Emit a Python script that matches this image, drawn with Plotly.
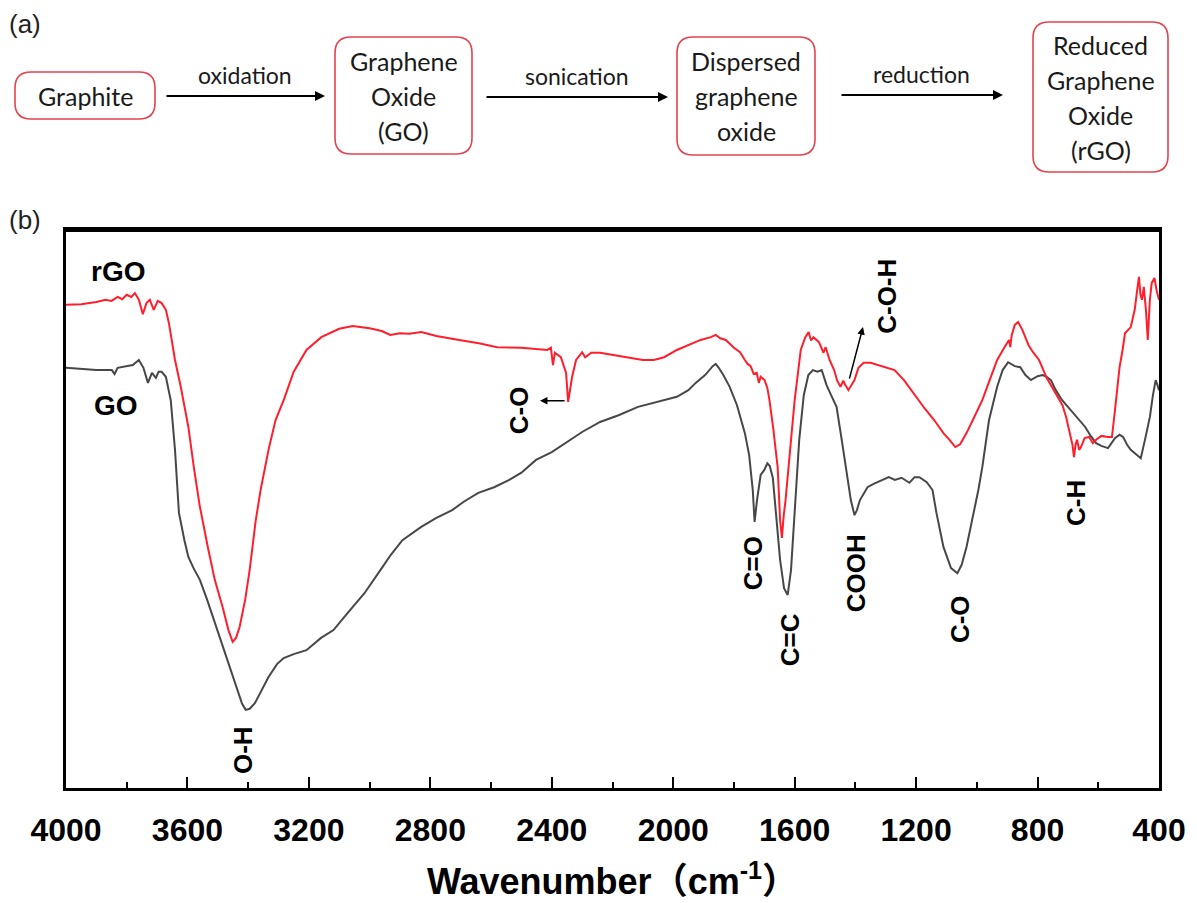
import plotly.graph_objects as go

# ---------------- data ----------------
rgo_wn = [4000, 3950, 3900, 3870, 3850, 3830, 3815, 3800, 3785, 3773, 3760, 3747, 3735, 3724, 3711, 3698,
          3685, 3671, 3661, 3641, 3622, 3597, 3579, 3560, 3533, 3510, 3484, 3465, 3451, 3440, 3428, 3410,
          3395, 3375, 3359, 3333, 3310, 3283, 3250, 3208, 3159, 3100, 3056, 3000, 2960, 2932, 2900, 2869,
          2830, 2780, 2705, 2640, 2580, 2500, 2415, 2403, 2396, 2390, 2370, 2353, 2346, 2333, 2320, 2300,
          2290, 2270, 2241, 2200, 2150, 2100, 2064, 2030, 1988, 1950, 1910, 1876, 1860, 1845, 1827, 1800,
          1780, 1764, 1755, 1745, 1735, 1725, 1718, 1712, 1699, 1690, 1683, 1670, 1656, 1648, 1642, 1636,
          1630, 1615, 1600, 1580, 1565, 1554, 1546, 1538, 1520, 1505, 1498, 1485, 1470, 1460, 1449, 1440,
          1435, 1423, 1412, 1403, 1390, 1373, 1350, 1324, 1300, 1271, 1240, 1209, 1173, 1140, 1110, 1090,
          1071, 1055, 1034, 1010, 982, 955, 933, 910, 894, 890, 885, 875, 864, 850, 830, 815, 795, 770,
          750, 732, 718, 706, 693, 685, 680, 675, 670, 663, 657, 645, 630, 618, 607, 590, 568, 555, 545,
          530, 520, 512, 493, 480, 472, 466, 461, 456, 450, 443, 437, 430, 424, 415, 408, 400]
rgo_t = [86.6, 86.7, 87.1, 87.5, 87.3, 88.0, 87.6, 88.4, 88.0, 88.7, 87.5, 84.9, 86.9, 87.5, 85.7, 87.3,
         86.9, 85.7, 83.3, 76.7, 71.9, 64.7, 57.5, 50.7, 43.2, 37.3, 32.4, 28.3, 26.2, 26.9, 28.9, 33.7,
         39.1, 48.0, 53.4, 60.6, 65.9, 69.5, 74.6, 78.5, 80.8, 82.3, 82.8, 82.4, 81.9, 81.2, 81.5, 81.4,
         81.7, 81.0, 80.3, 79.7, 79.0, 78.9, 78.5, 78.9, 75.8, 78.0, 77.2, 74.4, 69.2, 73.7, 76.7, 78.1,
         77.2, 78.0, 78.0, 77.6, 77.1, 76.7, 76.7, 77.2, 78.5, 79.4, 80.3, 80.8, 81.2, 80.6, 80.3, 78.9,
         78.1, 76.7, 76.0, 75.6, 74.2, 74.4, 72.6, 73.7, 73.1, 71.7, 69.5, 64.2, 57.5, 48.0, 44.8, 48.9,
         51.6, 60.6, 69.5, 78.5, 80.8, 81.7, 80.2, 80.8, 79.9, 78.0, 79.0, 76.7, 74.9, 73.0, 71.9, 73.0,
         72.4, 71.3, 72.4, 73.1, 75.3, 76.2, 76.2, 75.8, 75.4, 74.9, 73.1, 70.8, 68.1, 65.9, 63.6, 62.4,
         61.1, 61.6, 63.6, 66.3, 69.5, 73.5, 76.7, 78.9, 80.3, 79.0, 81.2, 83.0, 83.5, 82.1, 79.4, 78.1,
         76.7, 73.5, 71.7, 70.1, 68.6, 66.5, 63.6, 61.5, 59.3, 61.5, 62.4, 60.6, 61.1, 62.7, 62.9, 61.8,
         62.4, 63.1, 62.9, 62.9, 67.7, 75.4, 78.5, 81.5, 82.6, 85.7, 89.2, 91.6, 88.4, 87.5, 89.8, 85.7,
         80.3, 87.5, 90.5, 91.4, 89.2, 87.5]

go_wn = [4000, 3950, 3900, 3849, 3840, 3830, 3800, 3780, 3760, 3745, 3730, 3717, 3704, 3695, 3685, 3671,
         3662, 3655, 3641, 3635, 3628, 3610, 3597, 3580, 3559, 3535, 3510, 3485, 3458, 3435, 3420, 3408,
         3395, 3378, 3360, 3333, 3305, 3283, 3250, 3208, 3160, 3119, 3070, 3017, 2960, 2930, 2892, 2860,
         2830, 2780, 2728, 2690, 2642, 2590, 2540, 2500, 2452, 2400, 2350, 2300, 2241, 2180, 2116, 2050,
         1988, 1950, 1926, 1895, 1870, 1860, 1850, 1835, 1814, 1790, 1764, 1750, 1738, 1732, 1724, 1712,
         1700, 1690, 1682, 1672, 1660, 1648, 1635, 1623, 1612, 1600, 1585, 1570, 1555, 1540, 1525, 1511,
         1495, 1480, 1462, 1445, 1430, 1415, 1403, 1395, 1385, 1370, 1360, 1340, 1311, 1290, 1270, 1248,
         1222, 1205, 1189, 1165, 1146, 1133, 1110, 1085, 1064, 1050, 1034, 1015, 995, 982, 960, 933, 915,
         897, 875, 857, 840, 822, 800, 783, 770, 756, 740, 719, 700, 680, 660, 643, 625, 607, 590, 568,
         545, 530, 518, 505, 493, 475, 460, 445, 430, 420, 411, 405, 400]
go_t = [75.3, 75.1, 74.9, 74.9, 74.2, 75.3, 75.6, 75.8, 76.7, 75.3, 72.6, 74.4, 73.5, 74.6, 74.6, 73.7,
        71.3, 69.5, 60.6, 55.2, 49.3, 44.4, 41.4, 39.4, 37.3, 33.7, 29.6, 25.6, 21.1, 17.2, 15.1, 14.0,
        14.2, 15.2, 17.2, 19.9, 22.2, 23.3, 24.0, 24.7, 26.9, 28.3, 31.5, 34.9, 39.4, 41.8, 44.4, 45.7,
        46.8, 48.4, 49.8, 51.3, 52.9, 53.9, 55.2, 56.5, 58.8, 60.2, 62.0, 63.8, 65.6, 66.8, 68.3, 69.2,
        70.1, 71.3, 72.6, 74.0, 75.6, 76.0, 75.3, 74.0, 71.9, 68.6, 63.6, 59.7, 53.4, 47.7, 51.6, 56.1,
        57.0, 58.2, 57.7, 55.6, 48.0, 40.9, 35.8, 34.6, 39.1, 49.8, 62.4, 70.4, 74.0, 74.9, 74.6, 74.9,
        72.2, 70.4, 68.3, 62.4, 57.0, 51.6, 48.9, 49.8, 51.6, 53.0, 53.9, 54.5, 55.2, 55.7, 55.2, 55.6,
        54.7, 55.7, 55.7, 54.8, 53.4, 49.3, 43.2, 39.4, 38.5, 40.0, 43.2, 48.0, 53.4, 57.5, 65.9, 71.9, 74.9,
        76.3, 75.6, 75.4, 74.0, 73.1, 73.8, 74.0, 73.7, 73.1, 71.3, 69.5, 68.3, 67.2, 65.9, 64.7, 63.1, 61.8, 61.3, 60.9,
        62.7, 63.3, 62.9, 61.5, 60.6, 59.7, 59.1, 62.7, 66.5, 70.4, 73.1, 72.2, 71.3]

tick_vals = [4000, 3600, 3200, 2800, 2400, 2000, 1600, 1200, 800, 400]
tick_text = ["4000", "3600", "3200", "2800", "2400", "2000", "1600", "1200", "800", "400"]

# peak labels: (text, wavenumber, transmittance)
peak_labels = [("O-H", 3417, 6.8), ("C-O", 2508, 67.7), ("C=O", 1737, 40.3), ("C=C", 1615, 26.5),
               ("COOH", 1398, 38.5), ("C-O", 1055, 30.3), ("C-H", 673, 51.1), ("C-O-H", 1296, 88.2)]
# pointer arrows: (tail wn, tail T, head wn, head T)
pointer_arrows = [(2353, 69.4, 2439, 69.4), (1421, 73.1, 1375, 82.6)]
series_labels = [("rGO", 3829, 92.5), ("GO", 3835, 68.6)]

# flow diagram (a)
steps = [["Graphite"], ["Graphene", "Oxide", "(GO)"], ["Dispersed", "graphene", "oxide"],
         ["Reduced", "Graphene", "Oxide", "(rGO)"]]
step_actions = ["oxidation", "sonication", "reduction"]

# ---------------- figure ----------------
W, H = 1197, 903
PL, PR, PT, PB = 66, 1159, 230, 788
BOLD = "Liberation Sans, Arial, sans-serif"

fig = go.Figure()
fig.add_trace(go.Scatter(x=go_wn, y=go_t, mode="lines", line=dict(color="#474747", width=2),
                         name="GO", showlegend=False, hoverinfo="skip"))
fig.add_trace(go.Scatter(x=rgo_wn, y=rgo_t, mode="lines", line=dict(color="#ff1f2c", width=2),
                         name="rGO", showlegend=False, hoverinfo="skip"))
# invisible trace for the full-page pixel axes used by the flow diagram
fig.add_trace(go.Scatter(x=[0], y=[0], xaxis="x2", yaxis="y2", mode="markers",
                         marker=dict(opacity=0), showlegend=False, hoverinfo="skip"))

fig.update_layout(
    width=W, height=H, margin=dict(l=0, r=0, t=0, b=0),
    paper_bgcolor="white", plot_bgcolor="rgba(0,0,0,0)",
    xaxis=dict(domain=[PL / W, PR / W], range=[4000, 400], autorange=False,
               tickvals=tick_vals, ticktext=tick_text, ticks="inside", ticklen=11, tickwidth=2,
               tickcolor="black", showline=True, linecolor="black", linewidth=2.5, mirror=True,
               showgrid=False, zeroline=False, ticklabelstandoff=12,
               minor=dict(tickvals=[3800, 3400, 3000, 2600, 2200, 1800, 1400, 1000, 600],
                          ticks="inside", ticklen=6, tickwidth=2, tickcolor="black"),
               tickfont=dict(family=BOLD, size=32, color="black", weight="bold"),
               title=dict(text="<b>Wavenumber（cm<sup>-1</sup>）</b>", standoff=22,
                          font=dict(family=BOLD + ", Noto Sans CJK SC", size=36, color="black")),
               automargin=False),
    yaxis=dict(domain=[1 - PB / H, 1 - PT / H], range=[0, 100], autorange=False,
               showticklabels=False, ticks="", showline=True, linecolor="black", linewidth=2.5,
               mirror=True, showgrid=False, zeroline=False, automargin=False),
    xaxis2=dict(domain=[0, 1], range=[0, W], autorange=False, visible=False, anchor="y2"),
    yaxis2=dict(domain=[0, 1], range=[H, 0], autorange=False, visible=False, anchor="x2"),
)

annotations = []
for txt, wn, t in peak_labels:
    annotations.append(dict(x=wn, y=t, xref="x", yref="y", text="<b>%s</b>" % txt, showarrow=False,
                            textangle=-90, font=dict(family=BOLD, size=26, color="black")))
for tx, ty, hx, hy in pointer_arrows:
    annotations.append(dict(x=hx, y=hy, ax=tx, ay=ty, xref="x", yref="y", axref="x", ayref="y",
                            text="", showarrow=True, arrowhead=2, arrowsize=1, arrowwidth=1.5,
                            arrowcolor="black"))
for txt, wn, t in series_labels:
    annotations.append(dict(x=wn, y=t, xref="x", yref="y", text="<b>%s</b>" % txt, showarrow=False,
                            font=dict(family=BOLD, size=28, color="black")))

# panel letters
annotations.append(dict(x=25, y=24, xref="x2", yref="y2", text="(a)", showarrow=False,
                        font=dict(family="Liberation Sans, Arial", size=26, color="#222")))
annotations.append(dict(x=25, y=220, xref="x2", yref="y2", text="(b)", showarrow=False,
                        font=dict(family="Liberation Sans, Arial", size=26, color="#222")))

shapes = []
# slightly heavier top frame line, as in the reference
shapes.append(dict(type="line", xref="x domain", yref="y domain", x0=0, x1=1, y0=1, y1=1,
                   line=dict(color="black", width=4)))

# flow diagram geometry (pixel layout)
boxes = [(15, 155, 72, 119), (335, 472, 37, 154), (677, 815, 37, 155), (1033, 1168, 22, 172)]
arrows = [(165, 325, 96), (485, 668, 97), (840, 1003, 95)]
r = 16
for (x0, x1, y0, y1), lines in zip(boxes, steps):
    path = (f"M {x0+r},{y0} L {x1-r},{y0} Q {x1},{y0} {x1},{y0+r} L {x1},{y1-r} "
            f"Q {x1},{y1} {x1-r},{y1} L {x0+r},{y1} Q {x0},{y1} {x0},{y1-r} "
            f"L {x0},{y0+r} Q {x0},{y0} {x0+r},{y0} Z")
    shapes.append(dict(type="path", path=path, xref="x2", yref="y2",
                       line=dict(color="#e4434f", width=1.6), fillcolor="rgba(0,0,0,0)"))
    cx, cy = (x0 + x1) / 2, (y0 + y1) / 2
    n = len(lines)
    for i, ln in enumerate(lines):
        annotations.append(dict(x=cx, y=cy + (i - (n - 1) / 2) * 35, xref="x2", yref="y2", text=ln,
                                showarrow=False, font=dict(family="Lato, Open Sans", size=25,
                                                           color="#1a1a1a")))
for (x0, x1, y), lab in zip(arrows, step_actions):
    annotations.append(dict(x=x1, y=y, ax=x0, ay=y, xref="x2", yref="y2", axref="x2", ayref="y2",
                            text="", showarrow=True, arrowhead=2, arrowsize=1, arrowwidth=2,
                            arrowcolor="black"))
    annotations.append(dict(x=(x0 + x1) / 2, y=y - 21, xref="x2", yref="y2", text=lab,
                            showarrow=False, font=dict(family="Lato, Open Sans", size=23,
                                                       color="#1a1a1a")))

fig.update_layout(annotations=annotations, shapes=shapes)
fig.write_html("out.html")
